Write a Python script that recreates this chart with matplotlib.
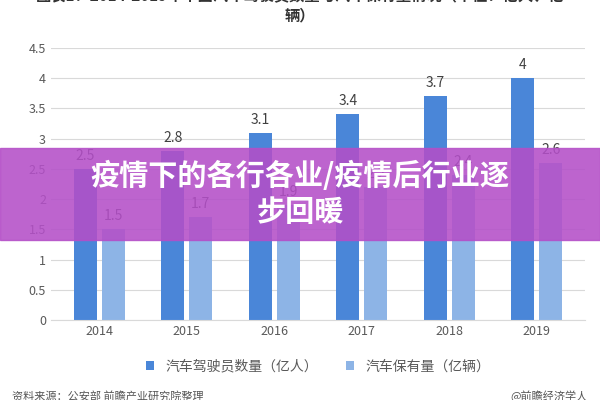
import matplotlib
matplotlib.use("Agg")
import matplotlib.pyplot as plt
import numpy as np
from matplotlib.patches import Rectangle

plt.rcParams['font.family'] = ['Noto Sans CJK SC', 'DejaVu Sans']

years = ["2014", "2015", "2016", "2017", "2018", "2019"]
drivers = [2.5, 2.8, 3.1, 3.4, 3.7, 4.0]
cars = [1.5, 1.7, 1.9, 2.2, 2.4, 2.6]
driver_labels = ["2.5", "2.8", "3.1", "3.4", "3.7", "4"]
car_labels = ["1.5", "1.7", "1.9", "2.2", "2.4", "2.6"]
yticks = [0, 0.5, 1, 1.5, 2, 2.5, 3, 3.5, 4, 4.5]

fig = plt.figure(figsize=(6, 4), dpi=100)
ax = fig.add_axes([0.085, 0.2, 0.89, 0.68])
x = np.arange(len(years))
w = 0.26
c1, c2 = "#4a86d8", "#8db4e6"
ax.bar(x - w/2 - 0.03, drivers, w, color=c1, label="汽车驾驶员数量（亿人）")
ax.bar(x + w/2 + 0.03, cars, w, color=c2, label="汽车保有量（亿辆）")
for xi, v, t in zip(x, drivers, driver_labels):
    ax.text(xi - w/2 - 0.03, v + 0.1, t, ha="center", va="bottom", fontsize=10, color="#404040")
for xi, v, t in zip(x, cars, car_labels):
    ax.text(xi + w/2 + 0.03, v + 0.1, t, ha="center", va="bottom", fontsize=10, color="#404040")
ax.set_ylim(0, 4.5)
ax.set_xlim(-0.55, 5.55)
ax.set_yticks(yticks)
ax.set_yticklabels([f"{t:g}" for t in yticks], fontsize=9, color="#595959")
ax.set_xticks(x)
ax.set_xticklabels(years, fontsize=9, color="#595959")
ax.grid(axis="y", color="#d9d9d9", lw=0.8)
ax.set_axisbelow(True)
for s in ["top", "right", "left"]:
    ax.spines[s].set_visible(False)
ax.spines["bottom"].set_color("#d9d9d9")
ax.tick_params(length=0)
ax.legend(loc="upper center", bbox_to_anchor=(0.5, -0.1), ncol=2, frameon=False,
          fontsize=10, handlelength=0.6, handleheight=0.6, labelcolor="#595959")

fig.text(0.5, 0.985, "图表1：2014-2019年中国汽车驾驶员数量与汽车保有量情况（单位：亿人、亿\n辆）",
         ha="center", va="center", fontsize=11, weight="bold", color="#333333")
fig.text(0.02, 0.008, "资料来源：公安部 前瞻产业研究院整理", fontsize=8, color="#555555", va="center")
fig.text(0.85, 0.008, "@前瞻经济学人", fontsize=8, color="#555555", va="center")

fig.patches.append(Rectangle((0, 0.4), 1, 0.23, transform=fig.transFigure,
                             color="#b44fc8", alpha=0.88, zorder=10))
fig.text(0.5, 0.515, "疫情下的各行各业/疫情后行业逐\n步回暖", ha="center", va="center",
         fontsize=21, weight="bold", color="white", zorder=11, linespacing=1.25)

fig.savefig("out.png", dpi=100)
